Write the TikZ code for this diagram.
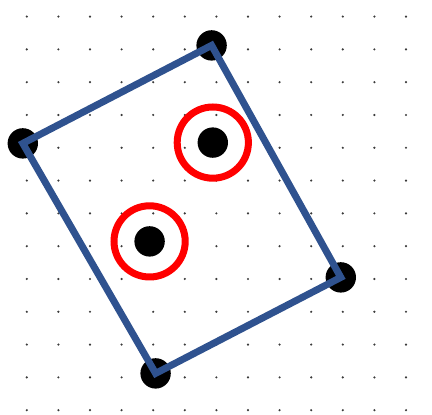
\documentclass[tikz,border=0pt]{standalone}
\usepackage{xcolor,tikz}
\definecolor{rahmenblau}{HTML}{2F528F}
\definecolor{ringrot}{HTML}{FF0000}
\definecolor{raster}{HTML}{3A3A3A}
\tikzset{rasterpunkt/.style={raster},
  eckpunkt/.style={circle,fill=black,inner sep=0,minimum size=7.6mm},
  rahmen/.style={rahmenblau,line width=1.75mm},
  ring/.style={circle,draw=ringrot,line width=1.75mm,inner sep=0,minimum size=17.8mm}}

\begin{document}
\begin{tikzpicture}[x=1mm,y=1mm]
\useasboundingbox (0,0) rectangle (108,103.75);
\foreach \i in {0,...,12}
  \foreach \j in {0,...,12}
    \fill[rasterpunkt] (6.7+7.9*\i,99.6-8.2*\j) circle (0.3);
\node[eckpunkt] (oben) at (52.9,92.4) {};
\node[eckpunkt] (links) at (5.7,67.9) {};
\node[eckpunkt] (unten) at (38.9,10.4) {};
\node[eckpunkt] (rechts) at (85.2,34.4) {};
\draw[rahmen] (oben.center) -- (rechts.center) -- (unten.center) -- (links.center) -- cycle;
\node[ring] (ringoben) at (53.2,68.1) {};
\node[eckpunkt] (punktoben) at (ringoben.center) {};
\node[ring] (ringunten) at (37.4,43.4) {};
\node[eckpunkt] (punktunten) at (ringunten.center) {};
\end{tikzpicture}
\end{document}
